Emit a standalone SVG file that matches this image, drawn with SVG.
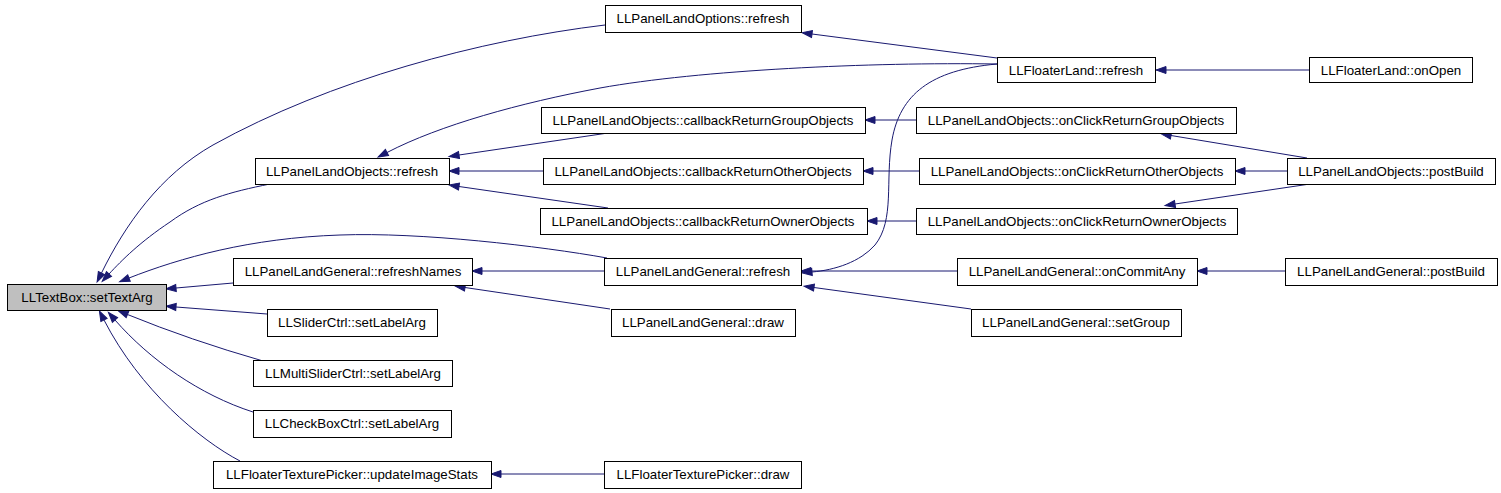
<svg xmlns="http://www.w3.org/2000/svg" width="1501" height="493" viewBox="0 0 1501 493">
<style>
.node rect{fill:#ffffff;stroke:#000000;stroke-width:1}
.node.root rect{fill:#bfbfbf}
.node text{font-family:"Liberation Sans",Arial,sans-serif;font-size:13.3px;fill:#000000;text-anchor:middle}
.edges path{fill:none;stroke:#191970;stroke-width:1;marker-end:url(#ah)}
</style>
<defs>
<marker id="ah" markerUnits="userSpaceOnUse" markerWidth="11" markerHeight="8" refX="0" refY="3.5" orient="auto" overflow="visible">
<path d="M0,0 L10,3.5 L0,7 z" fill="#191970" stroke="#191970" stroke-width="1"/>
</marker>
</defs>
<rect width="1501" height="493" fill="#ffffff"/>
<g class="edges" id="edges">
<path d="M605,25 C480,40 330,80 213,145 C160,175 125,225 101.5,273"/>
<path d="M270,184 C230,192 200,200 170,222 C140,242 122,260 109,274"/>
<path d="M607,258 C540,246 420,232 340,235 C250,238 180,258 129,278"/>
<path d="M233,283 L176,288"/>
<path d="M267,314 L176,307"/>
<path d="M263,361 Q190,340 127.5,314.5"/>
<path d="M253,412 C200,395 150,360 115,320"/>
<path d="M240,461 C200,440 140,390 104,320"/>
<path d="M997,58 L812,34"/>
<path d="M997,64 C870,62 700,70 600,88 C520,103 440,125 387,152.5"/>
<path d="M997,64 C930,70 900,95 892,140 C885,180 895,220 875,245 C860,262 835,270 812,272"/>
<path d="M1309,70 L1166,70"/>
<path d="M608,133 L459,155"/>
<path d="M543,171 L459,171"/>
<path d="M608,208 L459,186.5"/>
<path d="M916,120 L875,120"/>
<path d="M919,171 L873,171"/>
<path d="M916,221 L877,221"/>
<path d="M1307,158 L1171,135.5"/>
<path d="M1287,171 L1245,171"/>
<path d="M1310,184 L1175,204"/>
<path d="M604,271 L482,271"/>
<path d="M610,309 L465,287.5"/>
<path d="M957,271 L811,271"/>
<path d="M971,309 L814,287.5"/>
<path d="M1285,271 L1207,271"/>
<path d="M604,474 L501,474"/>
</g>
<g class="node root" id="n_settextarg"><rect x="7.5" y="284.5" width="159" height="26"/><text x="87" y="302">LLTextBox::setTextArg</text></g>
<g class="node" id="n_plo_refresh"><rect x="255.5" y="158.5" width="194" height="26"/><text x="352" y="176">LLPanelLandObjects::refresh</text></g>
<g class="node" id="n_plg_refreshnames"><rect x="233.5" y="258.5" width="239" height="27"/><text x="353" y="276">LLPanelLandGeneral::refreshNames</text></g>
<g class="node" id="n_slider"><rect x="267.5" y="309.5" width="170" height="27"/><text x="352" y="327">LLSliderCtrl::setLabelArg</text></g>
<g class="node" id="n_multislider"><rect x="253.5" y="360.5" width="199" height="26"/><text x="353" y="378">LLMultiSliderCtrl::setLabelArg</text></g>
<g class="node" id="n_checkbox"><rect x="253.5" y="410.5" width="198" height="27"/><text x="352" y="428">LLCheckBoxCtrl::setLabelArg</text></g>
<g class="node" id="n_ftp_update"><rect x="213.5" y="461.5" width="278" height="27"/><text x="352" y="479">LLFloaterTexturePicker::updateImageStats</text></g>
<g class="node" id="n_plopt_refresh"><rect x="605.5" y="5.5" width="196" height="27"/><text x="703" y="23">LLPanelLandOptions::refresh</text></g>
<g class="node" id="n_cb_group"><rect x="541.5" y="107.5" width="324" height="26"/><text x="703" y="125">LLPanelLandObjects::callbackReturnGroupObjects</text></g>
<g class="node" id="n_cb_other"><rect x="543.5" y="158.5" width="320" height="26"/><text x="703" y="176">LLPanelLandObjects::callbackReturnOtherObjects</text></g>
<g class="node" id="n_cb_owner"><rect x="540.5" y="208.5" width="327" height="26"/><text x="703" y="226">LLPanelLandObjects::callbackReturnOwnerObjects</text></g>
<g class="node" id="n_plg_refresh"><rect x="604.5" y="258.5" width="197" height="27"/><text x="703" y="276">LLPanelLandGeneral::refresh</text></g>
<g class="node" id="n_plg_draw"><rect x="611.5" y="309.5" width="184" height="27"/><text x="703" y="327">LLPanelLandGeneral::draw</text></g>
<g class="node" id="n_ftp_draw"><rect x="604.5" y="461.5" width="197" height="27"/><text x="703" y="479">LLFloaterTexturePicker::draw</text></g>
<g class="node" id="n_fl_refresh"><rect x="997.5" y="57.5" width="158" height="25"/><text x="1076" y="74.5">LLFloaterLand::refresh</text></g>
<g class="node" id="n_fl_onopen"><rect x="1309.5" y="57.5" width="163" height="25"/><text x="1391" y="74.5">LLFloaterLand::onOpen</text></g>
<g class="node" id="n_oc_group"><rect x="916.5" y="107.5" width="320" height="26"/><text x="1076" y="125">LLPanelLandObjects::onClickReturnGroupObjects</text></g>
<g class="node" id="n_oc_other"><rect x="919.5" y="158.5" width="316" height="26"/><text x="1077" y="176">LLPanelLandObjects::onClickReturnOtherObjects</text></g>
<g class="node" id="n_oc_owner"><rect x="916.5" y="208.5" width="321" height="26"/><text x="1077" y="226">LLPanelLandObjects::onClickReturnOwnerObjects</text></g>
<g class="node" id="n_plo_postbuild"><rect x="1287.5" y="158.5" width="208" height="26"/><text x="1391" y="176">LLPanelLandObjects::postBuild</text></g>
<g class="node" id="n_plg_oncommit"><rect x="957.5" y="258.5" width="240" height="27"/><text x="1077" y="276">LLPanelLandGeneral::onCommitAny</text></g>
<g class="node" id="n_plg_setgroup"><rect x="971.5" y="309.5" width="210" height="27"/><text x="1076" y="327">LLPanelLandGeneral::setGroup</text></g>
<g class="node" id="n_plg_postbuild"><rect x="1285.5" y="258.5" width="212" height="27"/><text x="1391" y="276">LLPanelLandGeneral::postBuild</text></g>
</svg>
